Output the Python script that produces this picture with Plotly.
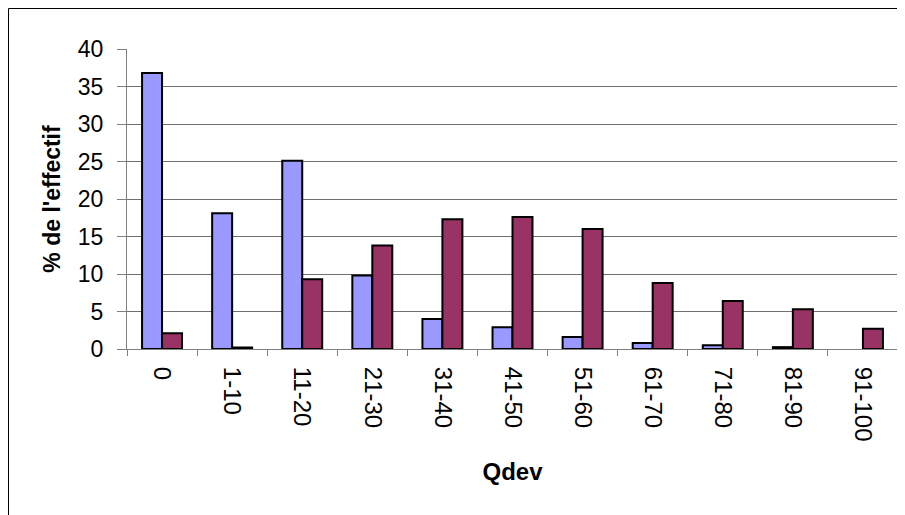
import plotly.graph_objects as go

categories = ["0", "1-10", "11-20", "21-30", "31-40", "41-50", "51-60", "61-70", "71-80", "81-90", "91-100"]
series_a = [36.8, 18.1, 25.1, 9.8, 4.0, 2.9, 1.6, 0.8, 0.5, 0.25, 0.0]
series_b = [2.1, 0.2, 9.3, 13.8, 17.3, 17.6, 16.0, 8.8, 6.4, 5.3, 2.7]
y_ticks = [0, 5, 10, 15, 20, 25, 30, 35, 40]

def outline(vals):
    return [2 if v > 0 else 0 for v in vals]

fig = go.Figure()
fig.add_bar(x=categories, y=series_a, marker=dict(color="#9999FF", line=dict(color="black", width=outline(series_a))), name="A")
fig.add_bar(x=categories, y=series_b, marker=dict(color="#993366", line=dict(color="black", width=outline(series_b))), name="B")

font = "Liberation Sans, Arial, sans-serif"
W, H = 897, 507
L, R, T, B = 119, 7, 41, 166
pw, ph = W - L - R, H - T - B
fig.update_layout(
    width=W, height=H,
    margin=dict(l=L, r=R, t=T, b=B),
    paper_bgcolor="white", plot_bgcolor="white",
    showlegend=False,
    barmode="group", bargap=0.43, bargroupgap=0,
    font=dict(family=font, size=23, color="black"),
    shapes=[dict(type="rect", xref="paper", yref="paper",
                 x0=(0.5 - L) / pw, x1=(W + 20 - L) / pw,
                 y0=-(B + 20) / ph, y1=(ph + T - 0.5) / ph,
                 line=dict(color="black", width=1), layer="below")],
)
fig.update_xaxes(
    type="category", showgrid=False, ticks="outside", tickson="boundaries",
    ticklen=6, tickcolor="#808080", showline=True, linecolor="#808080", linewidth=1,
    tickangle=90, tickfont=dict(size=24), ticklabelstandoff=12,
    title=dict(text="<b>Qdev</b>", font=dict(size=24), standoff=22),
)
fig.update_yaxes(
    range=[0, 40], tickvals=y_ticks, showgrid=True, gridcolor="#707070", gridwidth=1,
    ticks="outside", ticklen=9, tickcolor="#808080", showline=True, linecolor="#808080",
    linewidth=1, tickfont=dict(size=23), ticklabelstandoff=9,
    title=dict(text="<b>% de l'effectif</b>", font=dict(size=23), standoff=10),
    zeroline=False,
)
fig.add_shape(type="line", xref="paper", yref="paper", x0=1, x1=1, y0=0, y1=1,
              line=dict(color="#808080", width=1))
fig.write_html("out.html")
